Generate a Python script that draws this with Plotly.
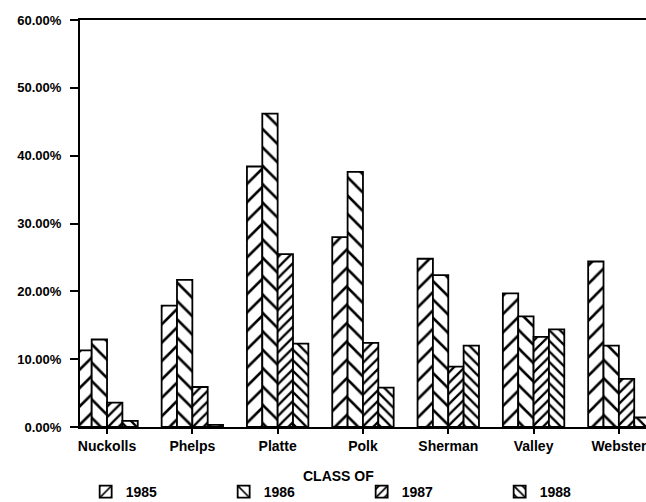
import plotly.graph_objects as go

counties = ["Nuckolls", "Phelps", "Platte", "Polk", "Sherman", "Valley", "Webster"]
years = ["1985", "1986", "1987", "1988"]
v1985 = [11.3, 17.9, 38.4, 28.0, 24.8, 19.7, 24.4]
v1986 = [12.9, 21.7, 46.2, 37.6, 22.4, 16.3, 12.0]
v1987 = [3.6, 5.9, 25.5, 12.4, 8.9, 13.3, 7.1]
v1988 = [0.9, 0.3, 12.3, 5.8, 12.0, 14.4, 1.4]
y_ticks = [0, 10, 20, 30, 40, 50, 60]
y_tick_labels = ["0.00%", "10.00%", "20.00%", "30.00%", "40.00%", "50.00%", "60.00%"]

series = [v1985, v1986, v1987, v1988]
patterns = [("/", 13, 0.2), ("\\", 13, 0.2), ("/", 7.5, 0.3), ("\\", 7.5, 0.3)]

FONT = "Liberation Sans, Arial, sans-serif"

fig = go.Figure()
for name, vals, (shape, size, sol) in zip(years, series, patterns):
    fig.add_trace(go.Bar(
        name=name,
        x=counties,
        y=vals,
        marker=dict(
            color="white",
            line=dict(color="black", width=1.8),
            pattern=dict(shape=shape, size=size, solidity=sol,
                         fgcolor="black", fgopacity=1, bgcolor="white",
                         fillmode="replace"),
        ),
    ))

fig.update_layout(
    width=646, height=502,
    margin=dict(l=80, r=0, t=20, b=75, autoexpand=False),
    paper_bgcolor="white", plot_bgcolor="white",
    barmode="group", bargap=0.28, bargroupgap=0,
    font=dict(family=FONT, size=14, color="black", weight="bold"),
    showlegend=True,
    legend=dict(
        orientation="h", x=0.010, xanchor="left", y=-0.16, yanchor="middle",
        entrywidth=93, entrywidthmode="pixels",
        font=dict(family=FONT, size=14, color="black", weight="bold"),
        bgcolor="rgba(0,0,0,0)", traceorder="normal",
    ),
    annotations=[dict(
        text="CLASS OF", x=0.457, y=-0.12, xref="paper", yref="paper",
        showarrow=False, xanchor="center", yanchor="middle",
        font=dict(family=FONT, size=14, color="black", weight="bold"),
    )],
)

fig.update_xaxes(
    range=[-0.317, 6.318], automargin=False,
    showline=True, linecolor="black", linewidth=2, mirror=True,
    ticks="outside", ticklen=5, tickwidth=2, tickcolor="black",
    showgrid=False, zeroline=False,
    tickfont=dict(family=FONT, size=14, color="black", weight="bold"),
)
fig.update_yaxes(
    range=[0, 60], tickvals=y_ticks, ticktext=y_tick_labels, automargin=False,
    showline=True, linecolor="black", linewidth=2,
    ticks="outside", ticklen=8, tickwidth=2, tickcolor="black",
    ticklabelstandoff=6,
    showgrid=False, zeroline=False,
    tickfont=dict(family=FONT, size=13, color="black", weight="bold"),
)

fig.write_html(
    "out.html",
    config={"displayModeBar": False},
    post_script="document.body.style.margin='0px';document.body.style.overflow='hidden';",
)
